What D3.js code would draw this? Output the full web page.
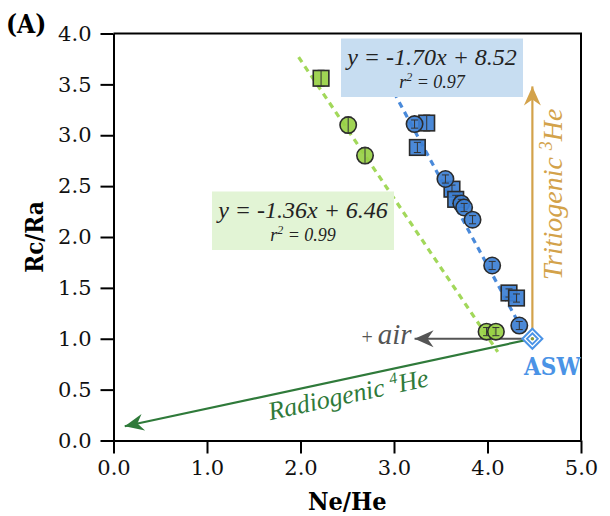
<!DOCTYPE html>
<html>
<head>
<meta charset="utf-8">
<script src="https://cdn.jsdelivr.net/npm/d3@7"></script>
<style>
  body { margin: 0; background: #fff; }
  svg { display: block; }
</style>
</head>
<body>
<svg id="chart" width="610" height="516"></svg>
<script>
// Axis ticks
const xTicks = [0, 1, 2, 3, 4, 5];
const yTicks = [0, 0.5, 1, 1.5, 2, 2.5, 3, 3.5, 4];

// Samples (Ne/He, Rc/Ra) with Rc/Ra uncertainty
const greenCircleX = [2.51, 2.69, 3.99, 4.09];
const greenCircleY = [3.10, 2.80, 1.07, 1.07];
const greenCircleErr = [0.08, 0.08, 0.04, 0.04];

const greenSquareX = [2.22];
const greenSquareY = [3.56];
const greenSquareErr = [0.08];

const blueCircleX = [3.22, 3.55, 3.72, 3.75, 3.84, 4.05, 4.34];
const blueCircleY = [3.11, 2.57, 2.33, 2.29, 2.17, 1.72, 1.13];
const blueCircleErr = [0.04, 0.04, 0.04, 0.04, 0.04, 0.04, 0.04];

const blueSquareX = [3.35, 3.25, 3.62, 3.66, 4.23, 4.31];
const blueSquareY = [3.12, 2.88, 2.47, 2.37, 1.45, 1.40];
const blueSquareErr = [0.08, 0.05, 0.04, 0.04, 0.04, 0.04];

// Linear fits: slope, intercept, r², x extent of the drawn line
const greenFit = [-1.36, 6.46];
const greenR2 = 0.99;
const greenFitX = [1.98, 4.11];
const blueFit = [-1.70, 8.52];
const blueR2 = 0.97;
const blueFitX = [3.00, 4.32];

// Air-saturated water end-member and mixing vectors
const aswPoint = [4.48, 1.00];
const airEnd = [3.22, 1.00];
const tritEnd = [4.48, 3.48];
const radEnd = [0.12, 0.14];

const svg = d3.select("#chart");
const x = d3.scaleLinear().domain([0, 5]).range([113.5, 581]);
const y = d3.scaleLinear().domain([0, 4]).range([440.5, 33.5]);

const serif = "'DejaVu Serif', serif";
const times = "'Liberation Serif', 'Times New Roman', serif";
const boldSerif = "'DejaVu Serif Condensed', 'Liberation Serif', serif";

const cGreen = "#98d045";
const cGreenLine = "#a2d85a";
const cBlue = "#3c7fd4";
const cBlueLine = "#4a8ada";
const cGold = "#d3a24a";
const cAir = "#555555";
const cRad = "#2f7a3a";
const cAsw = "#4a93e6";

// Arrowhead markers
const defs = svg.append("defs");
function arrowMarker(id, color) {
  defs.append("marker")
    .attr("id", id)
    .attr("viewBox", "-20 -10 22 20")
    .attr("refX", 0).attr("refY", 0)
    .attr("markerWidth", 22).attr("markerHeight", 20)
    .attr("markerUnits", "userSpaceOnUse")
    .attr("orient", "auto")
    .append("path")
    .attr("d", "M0,0 L-19,-8.5 L-13,0 L-19,8.5 Z")
    .attr("fill", color);
}
arrowMarker("arrGold", cGold);
arrowMarker("arrAir", cAir);
arrowMarker("arrRad", cRad);

// Axes
const xAxis = svg.append("g")
  .attr("transform", `translate(0,${y(0)})`)
  .call(d3.axisBottom(x).tickValues(xTicks).tickFormat(d3.format(".1f"))
    .tickSize(13).tickSizeOuter(0).tickPadding(7));
const yAxis = svg.append("g")
  .attr("transform", `translate(${x(0)},0)`)
  .call(d3.axisLeft(y).tickValues(yTicks).tickFormat(d3.format(".1f"))
    .tickSize(13).tickSizeOuter(0).tickPadding(9));
[xAxis, yAxis].forEach(g => {
  g.selectAll("path.domain").attr("stroke", "#000").attr("stroke-width", 2);
  g.selectAll(".tick line").attr("stroke", "#000").attr("stroke-width", 2);
  g.selectAll(".tick text").attr("font-family", serif).attr("font-size", 21).attr("fill", "#111");
});

// Frame top and right
svg.append("path")
  .attr("d", `M${x(0)},${y(4)} H${x(5)} V${y(0)}`)
  .attr("fill", "none").attr("stroke", "#000").attr("stroke-width", 2);

// Axis titles and panel letter
svg.append("text")
  .attr("x", (x(0) + x(5)) / 2).attr("y", 510)
  .attr("text-anchor", "middle")
  .attr("font-family", boldSerif).attr("font-weight", "bold").attr("font-size", 25)
  .text("Ne/He");
svg.append("text")
  .attr("transform", `translate(43,${(y(0) + y(4)) / 2}) rotate(-90)`)
  .attr("text-anchor", "middle")
  .attr("font-family", boldSerif).attr("font-weight", "bold").attr("font-size", 24)
  .text("Rc/Ra");
svg.append("text")
  .attr("x", 6).attr("y", 33)
  .attr("font-family", boldSerif).attr("font-weight", "bold").attr("font-size", 26)
  .text("(A)");

// Regression lines
function fitLine(fit, ext, color) {
  const pts = ext.map(v => [x(v), y(fit[0] * v + fit[1])]);
  svg.append("path")
    .attr("d", d3.line()(pts))
    .attr("stroke", color).attr("stroke-width", 3.2)
    .attr("stroke-dasharray", "6,5").attr("fill", "none");
}
fitLine(greenFit, greenFitX, cGreenLine);
fitLine(blueFit, blueFitX, cBlueLine);

// Mixing vectors from ASW
function vector(end, color, marker) {
  svg.append("line")
    .attr("x1", x(aswPoint[0])).attr("y1", y(aswPoint[1]))
    .attr("x2", x(end[0])).attr("y2", y(end[1]))
    .attr("stroke", color).attr("stroke-width", 2.2)
    .attr("marker-end", `url(#${marker})`);
}
vector(tritEnd, cGold, "arrGold");
vector(airEnd, cAir, "arrAir");
vector(radEnd, cRad, "arrRad");

// Vector labels
const trit = svg.append("text")
  .attr("transform", `translate(${x(aswPoint[0]) + 30},${y(2.42)}) rotate(-90)`)
  .attr("text-anchor", "middle")
  .attr("font-family", times).attr("font-style", "italic").attr("font-size", 28)
  .attr("fill", cGold);
trit.append("tspan").text("Tritiogenic ");
trit.append("tspan").attr("font-size", 18).attr("dy", -10).text("3");
trit.append("tspan").attr("dy", 10).text("He");

const radAngle = Math.atan2(y(radEnd[1]) - y(aswPoint[1]), x(radEnd[0]) - x(aswPoint[0])) * 180 / Math.PI + 180;
const rad = svg.append("text")
  .attr("transform", `translate(350,403) rotate(${radAngle})`)
  .attr("text-anchor", "middle")
  .attr("font-family", times).attr("font-style", "italic").attr("font-size", 26)
  .attr("fill", cRad);
rad.append("tspan").text("Radiogenic ");
rad.append("tspan").attr("font-size", 16).attr("dy", -10).text("4");
rad.append("tspan").attr("dy", 10).text("He");

const air = svg.append("text")
  .attr("x", x(airEnd[0]) - 3).attr("y", y(airEnd[1]) + 5)
  .attr("text-anchor", "end")
  .attr("font-family", times).attr("fill", cAir);
air.append("tspan").attr("font-size", 20).text("+ ");
air.append("tspan").attr("font-size", 29).attr("font-style", "italic").text("air");

// Equation boxes
function eqBox(x0, y0, w, h, fill, fit, r2) {
  svg.append("rect").attr("x", x0).attr("y", y0).attr("width", w).attr("height", h).attr("fill", fill);
  const cx = x0 + w / 2;
  const sign = fit[1] >= 0 ? "+" : "-";
  svg.append("text")
    .attr("x", cx).attr("y", y0 + 26.5)
    .attr("text-anchor", "middle")
    .attr("font-family", times).attr("font-style", "italic").attr("font-size", 24)
    .attr("fill", "#222")
    .text(`y = ${d3.format(".2f")(fit[0])}x ${sign} ${d3.format(".2f")(Math.abs(fit[1]))}`.replace("−", "-"));
  const t = svg.append("text")
    .attr("x", cx).attr("y", y0 + 49)
    .attr("text-anchor", "middle")
    .attr("font-family", times).attr("font-style", "italic").attr("font-size", 18)
    .attr("fill", "#222");
  t.append("tspan").text("r");
  t.append("tspan").attr("font-size", 12).attr("dy", -7).text("2");
  t.append("tspan").attr("dy", 7).text(` = ${d3.format(".2f")(r2)}`);
}
eqBox(341, 38.5, 182, 58.5, "#c7ddf1", blueFit, blueR2);
eqBox(212, 191.5, 182, 58.5, "#e2f4d5", greenFit, greenR2);

// Sample markers
function errorBar(g, px, py, errPx) {
  const h = Math.min(errPx, 8);
  g.append("path")
    .attr("d", `M${px},${py - h} V${py + h} M${px - 3.5},${py - h} H${px + 3.5} M${px - 3.5},${py + h} H${px + 3.5}`)
    .attr("stroke", "#333").attr("stroke-width", 1).attr("fill", "none");
}
function circles(xs, ys, errs, color) {
  xs.forEach((v, i) => {
    const g = svg.append("g");
    const px = x(v), py = y(ys[i]);
    g.append("circle").attr("cx", px).attr("cy", py).attr("r", 8.2)
      .attr("fill", color).attr("fill-opacity", 0.92)
      .attr("stroke", "#2b2b2b").attr("stroke-width", 1.6);
    errorBar(g, px, py, y(0) - y(errs[i]));
  });
}
function squares(xs, ys, errs, color) {
  xs.forEach((v, i) => {
    const g = svg.append("g");
    const px = x(v), py = y(ys[i]);
    g.append("rect").attr("x", px - 7.8).attr("y", py - 7.8).attr("width", 15.6).attr("height", 15.6)
      .attr("fill", color).attr("fill-opacity", 0.92)
      .attr("stroke", "#2b2b2b").attr("stroke-width", 1.6);
    errorBar(g, px, py, y(0) - y(errs[i]));
  });
}
squares(greenSquareX, greenSquareY, greenSquareErr, cGreen);
circles(greenCircleX, greenCircleY, greenCircleErr, cGreen);
squares(blueSquareX, blueSquareY, blueSquareErr, cBlue);
circles(blueCircleX, blueCircleY, blueCircleErr, cBlue);

// ASW end-member
const ax = x(aswPoint[0]), ay = y(aswPoint[1]);
const diamond = r => `M${ax},${ay - r} L${ax + r},${ay} L${ax},${ay + r} L${ax - r},${ay} Z`;
svg.append("path").attr("d", diamond(10)).attr("fill", "#fff").attr("stroke", cAsw).attr("stroke-width", 2);
svg.append("path").attr("d", diamond(5.5)).attr("fill", "#fff").attr("stroke", cAsw).attr("stroke-width", 1.8);
svg.append("circle").attr("cx", ax).attr("cy", ay).attr("r", 1.8).attr("fill", "#8a9a3a");
svg.append("text")
  .attr("x", ax + 20).attr("y", ay + 36)
  .attr("text-anchor", "middle")
  .attr("font-family", boldSerif).attr("font-weight", "bold").attr("font-size", 24)
  .attr("fill", cAsw)
  .text("ASW");
</script>
</body>
</html>
